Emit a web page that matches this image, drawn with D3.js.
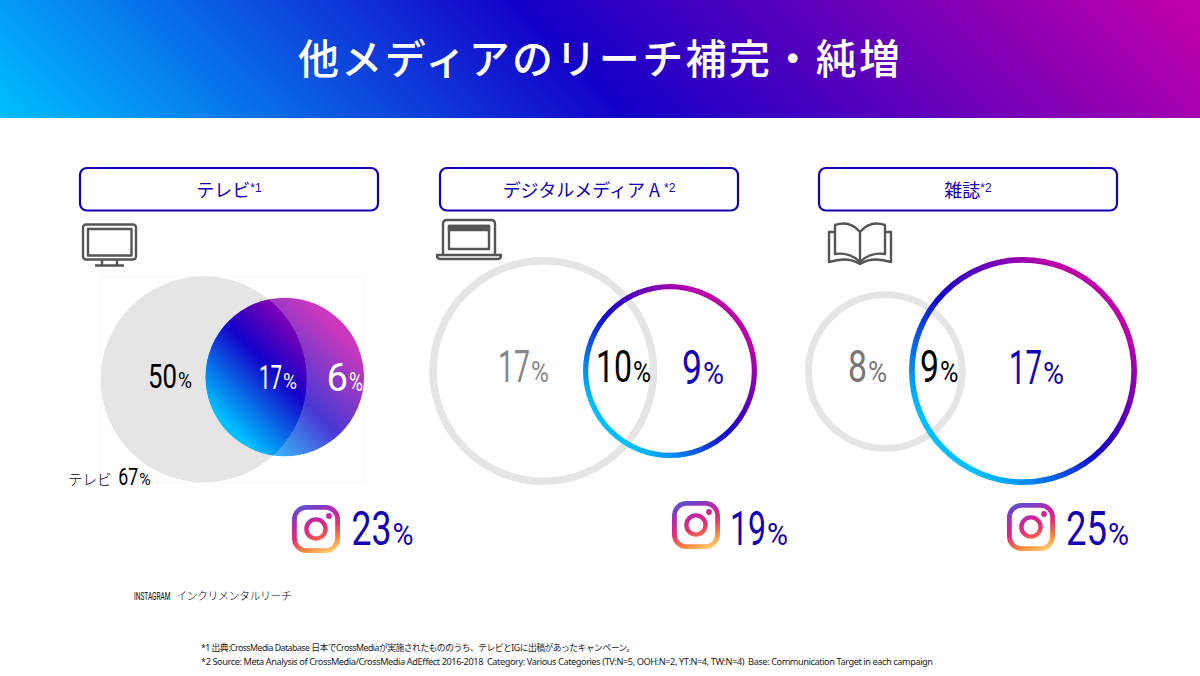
<!DOCTYPE html>
<html lang="ja"><head><meta charset="utf-8">
<script src="https://cdn.jsdelivr.net/npm/d3@7"></script>
<style>html,body{margin:0;padding:0;background:#fff}svg{display:block}text{white-space:pre}</style>
</head><body><svg id="c" width="1200" height="676"></svg>
<script>
// ---- data ----
const titleText = "他メディアのリーチ補完・純増";
const panelNames = ["テレビ", "デジタルメディア A ", "雑誌"];
const panelNotes = ["*1", "*2", "*2"];
const panelIcons = ["tv", "laptop", "book"];
const mediaOnly = [50, 17, 8];
const overlap = [17, 10, 9];
const igOnly = [6, 9, 17];
const mediaTotal = [67, 27, 17];
const igTotal = [23, 19, 25];
const mediaLabel = "テレビ";
const igCaption = "インクリメンタルリーチ";
const footnotes = [
  "*1 出典:CrossMedia Database 日本でCrossMediaが実施されたもののうち、テレビとIGに出稿があったキャンペーン。",
  "*2 Source: Meta Analysis of CrossMedia/CrossMedia AdEffect 2016-2018  Category: Various Categories (TV:N=5, OOH:N=2, YT:N=4, TW:N=4)  Base: Communication Target in each campaign"
];

// ---- layout ----
const NAVY = "#1400b4", GREY = "#e5e5e5", ICON = "#555";
const gradStops = [[0,"#00bfff"],[0.48,"#1400c8"],[0.98,"#bc00aa"]];
// lab: [x, baseline, font size, digits width, % width]
const layout = [
  {btn:[80,378], venn:[100.7,364], rRange:[79.2,103], cy:[379.3,377], sw:[0,0], ig:[292,505],
   lab:[[148,388,32.8,29,14],[259,389,32.8,23,14],[326.5,391,38,21.5,14]], labCol:["#000","#fff","#fff"], igLab:[351.5,40,21]},
  {btn:[440,738], venn:[429.3,757], rRange:[87,114], cy:[371,371], sw:[7.5,5.2], ig:[672,501],
   lab:[[498,382,43.6,32,18],[596,382,43.6,36,18],[682,384,47.8,20,21]], labCol:["#888","#000",NAVY], igLab:[730,36,21]},
  {btn:[819,1117], venn:[805,1137], rRange:[80.3,114], cy:[371.5,371], sw:[7,5.7], ig:[1007,503],
   lab:[[848,382,43.6,19,19],[920,382,43.6,19,18.5],[1009,384,47.8,33,21]], labCol:["#777","#000",NAVY], igLab:[1066,41,21]}
];

const svg = d3.select("#c");
const defs = svg.append("defs");
const stops = (g, list) => g.selectAll("stop").data(list).join("stop")
  .attr("offset", d => d[0]).attr("stop-color", d => d[1]);

stops(defs.append("linearGradient").attr("id","hdr").attr("gradientUnits","userSpaceOnUse")
  .attr("x1",0).attr("y1",118).attr("x2",658).attr("y2",-540), gradStops);
stops(defs.append("linearGradient").attr("id","venn")
  .attr("x1",.171).attr("y1",.829).attr("x2",.829).attr("y2",.171), gradStops);
stops(defs.append("linearGradient").attr("id","ig").attr("gradientUnits","userSpaceOnUse")
  .attr("x1",26).attr("y1",50).attr("x2",6).attr("y2",0),
  [[0,"#fdc468"],[.18,"#f9813a"],[.4,"#e8336c"],[.62,"#c8249f"],[.85,"#7a3fc8"],[1,"#4f5bd5"]]);

// header
svg.append("rect").attr("width",1200).attr("height",118).attr("fill","url(#hdr)");
svg.append("text").attr("x",298).attr("y",74).attr("textLength",602).attr("lengthAdjust","spacing")
  .attr("fill","#fff").attr("font-family","'Noto Sans CJK JP'").attr("font-weight",500).attr("font-size",41)
  .text(titleText);

// number + small % sign, each squeezed to its own width
function fitted(g, x, y, fs, str, w, color) {
  const t = g.append("text").attr("fill",color).attr("font-family","Roboto")
    .attr("font-weight",400).attr("font-size",fs).text(str);
  const sx = w / t.node().getComputedTextLength();
  t.attr("transform",`translate(${x},${y}) scale(${sx},1)`);
}
function num(g, x, y, fs, value, color, wDigits, wPct) {
  fitted(g, x, y, fs, String(value), wDigits, color);
  fitted(g, x + wDigits + 1, y, fs*0.67, "%", wPct, color);
}

const icons = {
  tv(g){
    g.append("rect").attr("x",83).attr("y",224.5).attr("width",53).attr("height",35).attr("rx",3);
    g.append("rect").attr("x",88).attr("y",229).attr("width",43.5).attr("height",26.5);
    g.append("path").attr("d","M102,260V265M117,260V265M95,265.5H124");
  },
  laptop(g){
    g.append("path").attr("d","M443,254V224q0,-4 4,-4H491q4,0 4,4V254");
    g.append("rect").attr("x",449).attr("y",226).attr("width",40).attr("height",23);
    g.append("rect").attr("x",449).attr("y",226).attr("width",40).attr("height",4).attr("fill",ICON);
    g.append("path").attr("d","M437,255H501q0,4 -3,4H440q-3,0 -3,-4Z");
  },
  book(g){
    g.append("path").attr("d","M860,262V232Q850,220 835,225V254Q850,252 860,262Q870,252 885,254V225Q870,220 860,232");
    g.append("path").attr("d","M835,232H829V262Q848,256 860,264Q872,256 891,262V232H885");
  }
};

panelNames.forEach((name,i) => {
  const L = layout[i], g = svg.append("g");

  // title pill
  g.append("rect").attr("x",L.btn[0]).attr("y",168).attr("width",L.btn[1]-L.btn[0]).attr("height",42.5)
    .attr("rx",7).attr("fill","#fff").attr("stroke",NAVY).attr("stroke-width",2.2);
  const t = g.append("text").attr("x",(L.btn[0]+L.btn[1])/2).attr("y",197).attr("text-anchor","middle")
    .attr("fill",NAVY).attr("font-family","'Noto Sans CJK JP'").attr("font-weight",400).attr("font-size",18);
  t.append("tspan").text(name);
  t.append("tspan").attr("font-size",12).attr("dy",-5).attr("font-family","'Liberation Sans'").text(panelNotes[i]);

  // icon
  const ic = g.append("g").attr("fill","none").attr("stroke",ICON).attr("stroke-width",2.4).attr("stroke-linejoin","round");
  icons[panelIcons[i]](ic);

  // venn circles: radii from each panel's values, centres from the venn's outer edges
  const r = d3.scaleLinear().domain(d3.extent([mediaTotal[i],igTotal[i]])).range(L.rRange);
  const x = d3.scaleLinear().domain([0,1]).range(L.venn);
  const R0 = r(mediaTotal[i]), R1 = r(igTotal[i]);
  const c0 = x(0)+R0, c1 = x(1)-R1;

  if (i===0) {
    g.append("rect").attr("x",L.venn[0]).attr("y",L.cy[0]-R0).attr("width",L.venn[1]-L.venn[0]).attr("height",2*R0)
      .attr("fill","none").attr("stroke","#f4f4f4");
    g.append("circle").attr("cx",c0).attr("cy",L.cy[0]).attr("r",R0).attr("fill",GREY);
    defs.append("clipPath").attr("id","cp0").append("circle").attr("cx",c0).attr("cy",L.cy[0]).attr("r",R0);
    g.append("circle").attr("cx",c1).attr("cy",L.cy[1]).attr("r",R1).attr("fill","url(#venn)").attr("opacity",.78);
    g.append("g").attr("clip-path","url(#cp0)")
      .append("circle").attr("cx",c1).attr("cy",L.cy[1]).attr("r",R1).attr("fill","url(#venn)");
  } else {
    g.append("circle").attr("cx",c0).attr("cy",L.cy[0]).attr("r",R0-L.sw[0]/2)
      .attr("fill","none").attr("stroke",GREY).attr("stroke-width",L.sw[0]);
    g.append("circle").attr("cx",c1).attr("cy",L.cy[1]).attr("r",R1-L.sw[1]/2)
      .attr("fill","none").attr("stroke","url(#venn)").attr("stroke-width",L.sw[1]);
  }

  // region labels
  [mediaOnly[i],overlap[i],igOnly[i]].forEach((v,k) => {
    const l = L.lab[k];
    num(g, l[0], l[1], l[2], v, L.labCol[k], l[3], l[4]);
  });

  // instagram glyph + total
  const ig = g.append("g").attr("transform",`translate(${L.ig[0]},${L.ig[1]})`);
  ig.append("rect").attr("x",2.4).attr("y",2.4).attr("width",43.2).attr("height",43.2).attr("rx",12)
    .attr("fill","none").attr("stroke","url(#ig)").attr("stroke-width",4.8);
  ig.append("circle").attr("cx",24).attr("cy",24).attr("r",9.6)
    .attr("fill","none").attr("stroke","url(#ig)").attr("stroke-width",4.4);
  ig.append("circle").attr("cx",37).attr("cy",11).attr("r",2.9).attr("fill","url(#ig)");
  num(g, L.igLab[0], 545, 47.8, igTotal[i], NAVY, L.igLab[1], L.igLab[2]);
});

// media total caption
const cap = svg.append("g");
cap.append("text").attr("x",68).attr("y",485).attr("fill","#000").attr("font-family","'Noto Sans CJK JP'")
  .attr("font-size",14.5).attr("font-weight",300).text(mediaLabel);
num(cap, 118.3, 485, 24, mediaTotal[0], "#000", 20, 11.5);

// instagram caption
svg.append("text").attr("transform","translate(134,600) scale(.62,1)").attr("fill","#000")
  .attr("font-family","Roboto").attr("font-size",10.5).attr("font-weight",400).text("INSTAGRAM");
svg.append("text").attr("x",176).attr("y",600).attr("textLength",116).attr("fill","#000")
  .attr("font-family","'Noto Sans CJK JP'").attr("font-size",11).attr("font-weight",300).text(igCaption);

// footnotes
[[651,434,8.8],[664.5,732,9.2]].forEach((d,i) => {
  svg.append("text").attr("x",201).attr("y",d[0]).attr("textLength",d[1]).attr("lengthAdjust","spacing")
    .attr("fill","#222").attr("font-family","'Noto Sans','Noto Sans CJK JP'").attr("font-size",d[2]).text(footnotes[i]);
});
</script></body></html>
